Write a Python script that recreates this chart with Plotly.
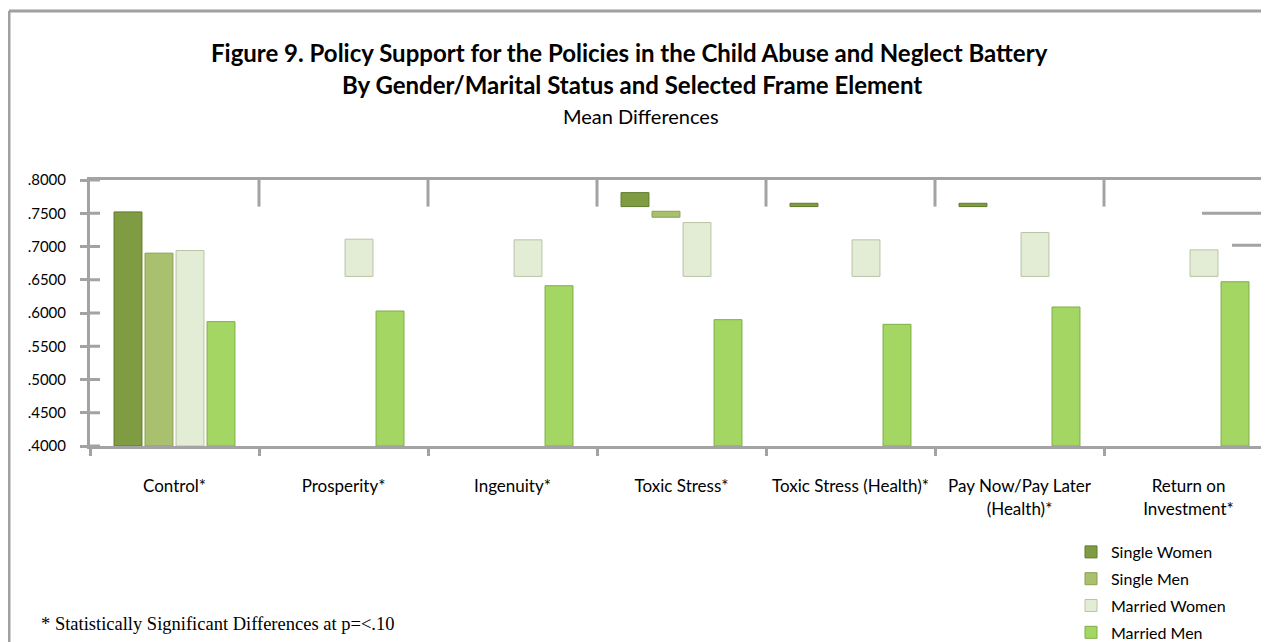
import plotly.graph_objects as go

# ---------------- data ----------------
categories = ["Control*", "Prosperity*", "Ingenuity*", "Toxic Stress*",
              "Toxic Stress (Health)*", "Pay Now/Pay Later<br>(Health)*",
              "Return on<br>Investment*"]
series_names = ["Single Women", "Single Men", "Married Women", "Married Men"]

# visible top of each bar (None = not visible in the picture)
single_women = [0.752, None, None, 0.781, 0.765, 0.765, None]
single_men = [0.690, None, None, 0.753, None, None, None]
married_women = [0.694, 0.711, 0.710, 0.736, 0.710, 0.721, 0.695]
married_men = [0.587, 0.603, 0.641, 0.590, 0.583, 0.609, 0.647]

# visible bottom of each bar as it is drawn in the picture
single_women_bottom = [0.400, None, None, 0.760, 0.760, 0.760, None]
single_men_bottom = [0.400, None, None, 0.744, None, None, None]
married_women_bottom = [0.400, 0.655, 0.655, 0.655, 0.655, 0.655, 0.655]
married_men_bottom = [0.400, 0.400, 0.400, 0.400, 0.400, 0.400, 0.400]

tick_values = [0.40, 0.45, 0.50, 0.55, 0.60, 0.65, 0.70, 0.75, 0.80]
tick_labels = [".4000", ".4500", ".5000", ".5500", ".6000", ".6500", ".7000", ".7500", ".8000"]

# ---------------- layout constants ----------------
OFF = 8                      # page offset of the figure inside the browser
W, H = 1269 - OFF, 642 - OFF
ML, MR, MT, MB = 90 - OFF, 0, 180 - OFF, 642 - 446
PW, PH = W - ML - MR, H - MT - MB
GRAY = "#a3a3a3"
FONT = "Lato, 'Open Sans', sans-serif"


def px_x(p):
    return (p - OFF - ML) / PW


def px_y(p):
    return (H - MB - (p - OFF)) / PH


colors = ["#7f9c42", "#a9c06f", "#e3ecd4", "#a4d663"]
edge = ["#5f7a2a", "#8aa052", "#b9c4a8", "#7fae45"]
tops = [single_women, single_men, married_women, married_men]
bottoms = [single_women_bottom, single_men_bottom, married_women_bottom, married_men_bottom]

fig = go.Figure()
for name, top, bot, c, e in zip(series_names, tops, bottoms, colors, edge):
    lengths = [None if (t is None or b is None) else t - b for t, b in zip(top, bot)]
    fig.add_trace(go.Bar(
        name=name, x=categories, y=lengths, base=bot, legendgroup=name,
        marker=dict(color=c, line=dict(color=e, width=1)),
        hoverinfo="skip",
    ))

shapes = []
# outer frame (top and left)
shapes.append(dict(type="line", xref="paper", yref="paper",
                   x0=px_x(9), x1=1.0, y0=px_y(11), y1=px_y(11),
                   line=dict(color="#a0a0a0", width=3)))
shapes.append(dict(type="line", xref="paper", yref="paper",
                   x0=px_x(9), x1=px_x(9), y0=px_y(11), y1=px_y(642),
                   line=dict(color="#a0a0a0", width=3)))
# inner part of y-axis ticks
for tv in tick_values:
    shapes.append(dict(type="line", xref="paper", yref="y",
                       x0=0, x1=px_x(100), y0=tv, y1=tv,
                       line=dict(color=GRAY, width=3)))
# category separators visible at the top
for i in range(len(categories) - 1):
    shapes.append(dict(type="line", xref="x", yref="y",
                       x0=i + 0.5, x1=i + 0.5, y0=0.76, y1=0.80,
                       line=dict(color=GRAY, width=3)))
# right-hand fragments
shapes.append(dict(type="line", xref="paper", yref="y",
                   x0=px_x(1202), x1=1.0, y0=0.75, y1=0.75,
                   line=dict(color=GRAY, width=3)))
shapes.append(dict(type="line", xref="paper", yref="y",
                   x0=px_x(1232), x1=1.0, y0=0.702, y1=0.702,
                   line=dict(color=GRAY, width=3)))
for tv in tick_values:
    if 0.45 <= tv <= 0.65:
        shapes.append(dict(type="line", xref="paper", yref="y",
                           x0=px_x(1264), x1=1.0, y0=tv, y1=tv,
                           line=dict(color=GRAY, width=3)))

annotations = [
    dict(text="<b>Figure 9. Policy Support for the Policies in the Child Abuse and Neglect Battery</b>",
         x=px_x(629), y=px_y(52), xref="paper", yref="paper", showarrow=False,
         xanchor="center", yanchor="middle",
         font=dict(family=FONT, size=24, color="#000")),
    dict(text="<b>By Gender/Marital Status and Selected Frame Element</b>",
         x=px_x(632), y=px_y(85), xref="paper", yref="paper", showarrow=False,
         xanchor="center", yanchor="middle",
         font=dict(family=FONT, size=24, color="#000")),
    dict(text="Mean Differences",
         x=px_x(641), y=px_y(116), xref="paper", yref="paper", showarrow=False,
         xanchor="center", yanchor="middle",
         font=dict(family=FONT, size=20, color="#000")),
    dict(text="* Statistically Significant Differences at p=<.10",
         x=px_x(39), y=px_y(624), xref="paper", yref="paper", showarrow=False,
         xanchor="left", yanchor="middle",
         font=dict(family="'Liberation Serif', 'DejaVu Serif', serif", size=18.5, color="#000")),
]

fig.update_layout(
    width=W, height=H,
    margin=dict(l=ML, r=MR, t=MT, b=MB, pad=0, autoexpand=False),
    paper_bgcolor="white", plot_bgcolor="white",
    barmode="group", bargap=0.266, bargroupgap=0.1,
    showlegend=True,
    legend=dict(xref="container", yref="container",
                x=(1071 - OFF) / W, y=1 - (535 - OFF) / H,
                xanchor="left", yanchor="top", traceorder="grouped",
                font=dict(family=FONT, size=16, color="#000"),
                bgcolor="rgba(0,0,0,0)", itemwidth=30, tracegroupgap=3),
    xaxis=dict(range=[-0.5, -0.5 + PW / 169.0], showgrid=False, zeroline=False,
               showline=True, linecolor=GRAY, linewidth=3, mirror=True,
               ticks="outside", tickson="boundaries", ticklen=7, tickwidth=3,
               tickcolor=GRAY, ticklabelstandoff=23,
               tickfont=dict(family=FONT, size=17, color="#000")),
    yaxis=dict(range=[0.4, 0.8], showgrid=False, zeroline=False,
               showline=True, linecolor=GRAY, linewidth=3,
               tickvals=tick_values, ticktext=tick_labels,
               ticks="outside", ticklen=7, tickwidth=3, tickcolor=GRAY,
               ticklabelstandoff=11,
               tickfont=dict(family=FONT, size=15, color="#000")),
    shapes=shapes,
    annotations=annotations,
)

fig.write_html("out.html")
